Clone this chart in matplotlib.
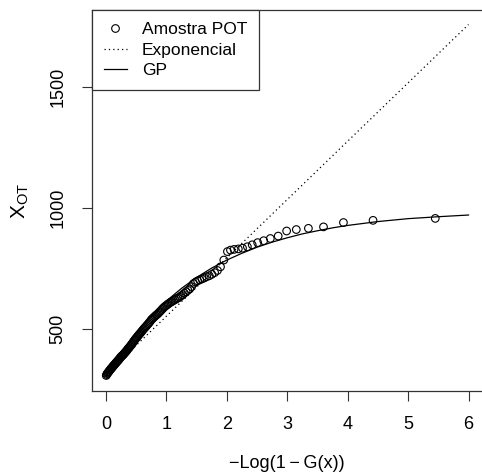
import matplotlib
matplotlib.use("Agg")
import matplotlib.pyplot as plt
from matplotlib.lines import Line2D

plt.rcParams['font.family'] = ['Liberation Sans', 'DejaVu Sans']
plt.rcParams['mathtext.fontset'] = 'custom'
plt.rcParams['mathtext.rm'] = 'Liberation Sans'
plt.rcParams['mathtext.it'] = 'Liberation Sans'

# POT sample: plotting position (-log(1-G)) and sorted exceedances
pot_t = [0.004, 0.012, 0.020, 0.028, 0.036, 0.044, 0.052, 0.060, 0.068, 0.077,
         0.085, 0.093, 0.102, 0.110, 0.119, 0.127, 0.136, 0.145, 0.154, 0.163,
         0.172, 0.181, 0.191, 0.200, 0.210, 0.219, 0.229, 0.238, 0.248, 0.258,
         0.268, 0.278, 0.288, 0.298, 0.309, 0.319, 0.330, 0.341, 0.352, 0.363,
         0.374, 0.385, 0.396, 0.408, 0.419, 0.431, 0.443, 0.455, 0.467, 0.479,
         0.492, 0.505, 0.518, 0.531, 0.544, 0.557, 0.571, 0.584, 0.598, 0.612,
         0.626, 0.641, 0.655, 0.670, 0.685, 0.701, 0.717, 0.733, 0.749, 0.765,
         0.782, 0.799, 0.816, 0.833, 0.851, 0.869, 0.888, 0.907, 0.926, 0.945,
         0.965, 0.985, 1.006, 1.027, 1.049, 1.072, 1.095, 1.118, 1.142, 1.166,
         1.191, 1.217, 1.243, 1.270, 1.298, 1.326, 1.356, 1.386, 1.417, 1.449,
         1.482, 1.516, 1.551, 1.588, 1.627, 1.667, 1.709, 1.752, 1.798, 1.845,
         1.895, 1.95, 2.01, 2.06, 2.12, 2.19, 2.26, 2.34, 2.42, 2.51,
         2.61, 2.72, 2.85, 2.99, 3.15, 3.35, 3.60, 3.93, 4.42, 5.45]
pot_x = [308, 312, 316, 318, 321, 323, 326, 329, 331, 334,
         337, 339, 341, 344, 347, 349, 352, 354, 357, 360,
         362, 365, 368, 370, 373, 376, 379, 382, 385, 388,
         390, 392, 395, 398, 401, 404, 407, 410, 414, 418,
         421, 424, 428, 431, 435, 439, 443, 448, 452, 456,
         460, 464, 468, 472, 476, 480, 484, 488, 492, 497,
         501, 505, 509, 513, 518, 522, 527, 532, 538, 542,
         546, 550, 554, 558, 561, 566, 571, 576, 581, 586,
         591, 595, 599, 603, 607, 611, 614, 618, 621, 625,
         628, 632, 637, 642, 648, 654, 660, 666, 675, 688,
         694, 699, 703, 707, 711, 716, 720, 726, 733, 742,
         757, 785, 820, 826, 829, 831, 834, 840, 848, 857,
         865, 874, 884, 905, 911, 916, 922, 940, 949, 957]

# fitted exponential (straight line) end points
exp_t = [0, 6]
exp_x = [312, 1758]

# fitted GP quantile curve
gp_t = [0, 0.25, 0.5, 0.75, 1.0, 1.25, 1.5, 1.75, 2.0, 2.25, 2.5, 2.75,
        3.0, 3.25, 3.5, 3.75, 4.0, 4.5, 5.0, 5.5, 6.0]
gp_x = [307, 402, 485, 555, 616, 668, 713, 752, 785, 813, 838, 859,
        877, 893, 906, 918, 928, 944, 956, 964, 971]

fig = plt.figure(figsize=(4.82, 4.74), dpi=100)
ax = fig.add_axes([91.5 / 482, 1 - 391 / 474, (483 - 91.5) / 482, (391 - 10) / 474])

ax.scatter(pot_t, pot_x, s=30, facecolors='none', edgecolors='black', linewidths=0.8, zorder=3)
ax.plot(exp_t, exp_x, color='black', linestyle=(0, (1, 2.5)), linewidth=0.9)
ax.plot(gp_t, gp_x, color='black', linestyle='-', linewidth=0.9)

ax.set_xlim(-0.24, 6.24)
ax.set_ylim(244, 1818)
ax.set_xticks([0, 1, 2, 3, 4, 5, 6])
ax.set_yticks([500, 1000, 1500])
ax.tick_params(axis='both', length=7, width=0.8, labelsize=13, color='#333333', pad=11)
for lab in ax.get_yticklabels():
    lab.set_rotation(90)
    lab.set_va('center')
for sp in ax.spines.values():
    sp.set_linewidth(0.9)
    sp.set_color('#333333')

ax.set_xlabel('\u2212Log(1\u2009\u2212\u2009G(x))', fontsize=13, labelpad=16)
ax.set_ylabel('$\\mathrm{X}_{\\mathrm{OT}}$', fontsize=15, labelpad=13)

handles = [
    Line2D([], [], marker='o', markersize=5.5, markerfacecolor='none', markeredgecolor='black',
           markeredgewidth=0.8, linestyle='none'),
    Line2D([], [], color='black', linestyle=(0, (1, 2.5)), linewidth=0.9),
    Line2D([], [], color='black', linestyle='-', linewidth=0.9),
]
leg = ax.legend(handles, ['Amostra POT', 'Exponencial', 'GP'], loc='upper left',
                bbox_to_anchor=(0, 1), borderaxespad=0, fancybox=False, framealpha=1,
                edgecolor='#333333', fontsize=12.5, handlelength=1.35, labelspacing=0.3,
                handletextpad=0.85, borderpad=0.7)
leg.get_frame().set_linewidth(0.9)

fig.savefig('out.png', dpi=100)
